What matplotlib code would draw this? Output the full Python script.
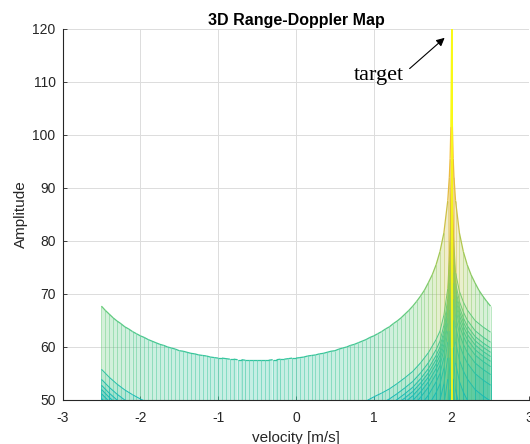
import numpy as np
import matplotlib.pyplot as plt
from matplotlib.collections import LineCollection, PolyCollection
from matplotlib.colors import LinearSegmentedColormap, Normalize

# Doppler cut through the target range bin (dB)
velocity = [-2.50, -2.45, -2.40, -2.35, -2.30, -2.25, -2.20, -2.15, -2.10, -2.05,
            -2.00, -1.95, -1.90, -1.85, -1.80, -1.75, -1.70, -1.65, -1.60, -1.55,
            -1.50, -1.45, -1.40, -1.35, -1.30, -1.25, -1.20, -1.15, -1.10, -1.05,
            -1.00, -0.95, -0.90, -0.85, -0.80, -0.75, -0.70, -0.65, -0.60, -0.55,
            -0.50, -0.45, -0.40, -0.35, -0.30, -0.25, -0.20, -0.15, -0.10, -0.05,
            0.00, 0.05, 0.10, 0.15, 0.20, 0.25, 0.30, 0.35, 0.40, 0.45,
            0.50, 0.55, 0.60, 0.65, 0.70, 0.75, 0.80, 0.85, 0.90, 0.95,
            1.00, 1.05, 1.10, 1.15, 1.20, 1.25, 1.30, 1.35, 1.40, 1.45,
            1.50, 1.55, 1.60, 1.65, 1.70, 1.75, 1.80, 1.85, 1.90, 1.95,
            1.97, 1.98, 1.99, 2.00, 2.01, 2.02, 2.03, 2.05, 2.10, 2.15,
            2.20, 2.25, 2.30, 2.35, 2.40, 2.45, 2.50]
amp_target = [67.7, 66.9, 66.2, 65.5, 64.9, 64.4, 63.8, 63.4, 62.9, 62.5,
              62.1, 61.8, 61.4, 61.1, 60.8, 60.5, 60.3, 60.0, 59.8, 59.6,
              59.3, 59.2, 59.0, 58.8, 58.7, 58.5, 58.4, 58.3, 58.1, 58.0,
              57.9, 57.9, 57.8, 57.7, 57.7, 57.6, 57.6, 57.5, 57.5, 57.5,
              57.5, 57.5, 57.5, 57.5, 57.6, 57.6, 57.7, 57.7, 57.8, 57.9,
              57.9, 58.0, 58.1, 58.3, 58.4, 58.5, 58.7, 58.8, 59.0, 59.2,
              59.3, 59.6, 59.8, 60.0, 60.3, 60.5, 60.8, 61.1, 61.4, 61.8,
              62.1, 62.5, 62.9, 63.4, 63.8, 64.4, 64.9, 65.5, 66.2, 66.9,
              67.7, 68.6, 69.6, 70.7, 72.1, 73.6, 75.5, 78.0, 81.5, 87.6,
              92.0, 95.5, 101.5, 120.0, 101.5, 95.5, 92.0, 87.6, 81.5, 78.0,
              75.5, 73.6, 72.1, 70.7, 69.6, 68.6, 67.7]

# Doppler cut through the strongest range sidelobe bin (dB)
velocity_side = [-2.5, -2.4, -2.3, -2.2, -2.1, -2.0, -1.9, -1.8, -1.7, -1.6,
                 -1.5, -1.4, -1.3, -1.2, -1.1, -1.0, -0.9, -0.8, -0.7, -0.6,
                 -0.5, -0.4, -0.3, -0.2, -0.1, 0.0, 0.1, 0.2, 0.3, 0.4,
                 0.5, 0.6, 0.7, 0.8, 0.9, 1.0, 1.1, 1.2, 1.3, 1.4,
                 1.5, 1.6, 1.7, 1.8, 1.85, 1.9, 1.95, 1.98, 2.0, 2.02,
                 2.05, 2.1, 2.15, 2.2, 2.3, 2.4, 2.5]
amp_side = [55.8, 54.3, 53.0, 51.9, 51.0, 50.2, 49.5, 48.9, 48.4, 47.9,
            47.4, 47.1, 46.8, 46.5, 46.2, 46.0, 45.9, 45.8, 45.7, 45.6,
            45.6, 45.6, 45.7, 45.8, 45.9, 46.0, 46.2, 46.5, 46.8, 47.1,
            47.4, 47.9, 48.4, 48.9, 49.8, 50.6, 51.3, 52.1, 53.1, 54.2,
            55.4, 57.0, 58.9, 61.4, 63.0, 66.0, 71.0, 80.0, 95.0, 82.0,
            74.0, 70.5, 68.5, 67.0, 65.0, 63.8, 62.8]

# further range bins, dB below the strongest sidelobe bin
side_offsets = [0.0, -1.9, -3.0, -3.8, -4.6, -5.5, -6.5, -8.0, -10.0,
                -13.0, -17.0, -22.0, -28.0, -35.0]

parula_like = LinearSegmentedColormap.from_list('parula_like', [
    (0.00, (0.24, 0.15, 0.66)),
    (0.15, (0.17, 0.40, 0.98)),
    (0.28, (0.05, 0.58, 0.88)),
    (0.40, (0.05, 0.71, 0.76)),
    (0.48, (0.20, 0.77, 0.62)),
    (0.57, (0.42, 0.80, 0.47)),
    (0.67, (0.68, 0.78, 0.30)),
    (0.78, (0.92, 0.73, 0.25)),
    (0.88, (0.99, 0.76, 0.22)),
    (0.95, (0.96, 0.88, 0.15)),
    (1.00, (0.98, 0.98, 0.08)),
])
norm = Normalize(0, 120)
floor = 40
plt.rcParams['axes.unicode_minus'] = False


def draw_bin(ax, v, z, curve_lw, stem_alpha, fill_alpha):
    v = np.asarray(v)
    z = np.asarray(z)
    zc = np.maximum(z[:-1], z[1:])
    # dense mesh edges seen edge-on read as a pale band
    quads = [[(v[i], floor), (v[i], z[i]), (v[i + 1], z[i + 1]), (v[i + 1], floor)]
             for i in range(len(v) - 1)]
    ax.add_collection(PolyCollection(quads, facecolors=parula_like(norm(zc)),
                                     edgecolors='none', alpha=fill_alpha, zorder=2))
    stems = [[(vi, floor), (vi, zi)] for vi, zi in zip(v, z)]
    ax.add_collection(LineCollection(stems, colors=parula_like(norm(z)),
                                     linewidths=0.7, alpha=stem_alpha, zorder=2))
    # line along velocity
    pts = np.column_stack([v, z])
    segs = np.stack([pts[:-1], pts[1:]], axis=1)
    ax.add_collection(LineCollection(segs, colors=parula_like(norm(zc)),
                                     linewidths=curve_lw, zorder=3))


plt.rcParams['font.family'] = ['Liberation Sans', 'DejaVu Sans']
fig = plt.figure(figsize=(5.3, 4.44), dpi=100)
ax = fig.add_axes([0.118, 0.0991, 0.881, 0.836])

draw_bin(ax, velocity, amp_target, 0.9, 0.45, 0.28)
for off in side_offsets:
    draw_bin(ax, velocity_side, np.asarray(amp_side) + off, 0.7, 0.3, 0.14)

# target peak line
peak = int(np.argmax(amp_target))
ax.plot([velocity[peak]] * 2, [floor, amp_target[peak]],
        color=parula_like(1.0), lw=1.3, zorder=4)

ax.set_xlim(-3, 3)
ax.set_ylim(50, 120)
ax.set_xticks(np.arange(-3, 4, 1))
ax.set_yticks(np.arange(50, 121, 10))
ax.grid(True, color='#dcdcdc', linewidth=0.7)
ax.set_axisbelow(True)
for side in ['top', 'right']:
    ax.spines[side].set_visible(False)
for side in ['left', 'bottom']:
    ax.spines[side].set_color('#262626')
    ax.spines[side].set_linewidth(0.8)
ax.tick_params(axis='both', direction='in', length=3, width=0.6,
               colors='#262626', labelsize=10)
ax.tick_params(axis='x', pad=8, top=False)
ax.tick_params(axis='y', pad=5, right=False)

ax.set_title('3D Range-Doppler Map', fontsize=11.5, fontweight='bold', pad=3)
ax.set_xlabel('velocity [m/s]', fontsize=11, color='#262626', labelpad=4)
ax.set_ylabel('Amplitude', fontsize=11, color='#262626', labelpad=3)

ax.text(1.06, 110.4, 'target', family='Liberation Serif', fontsize=16,
        ha='center', va='baseline')
ax.annotate('', xy=(1.91, 118.3), xytext=(1.46, 112.5),
            arrowprops=dict(arrowstyle='-|>', color='black', lw=0.8,
                            mutation_scale=12, shrinkA=0, shrinkB=0))

fig.savefig('out.png', dpi=100)
